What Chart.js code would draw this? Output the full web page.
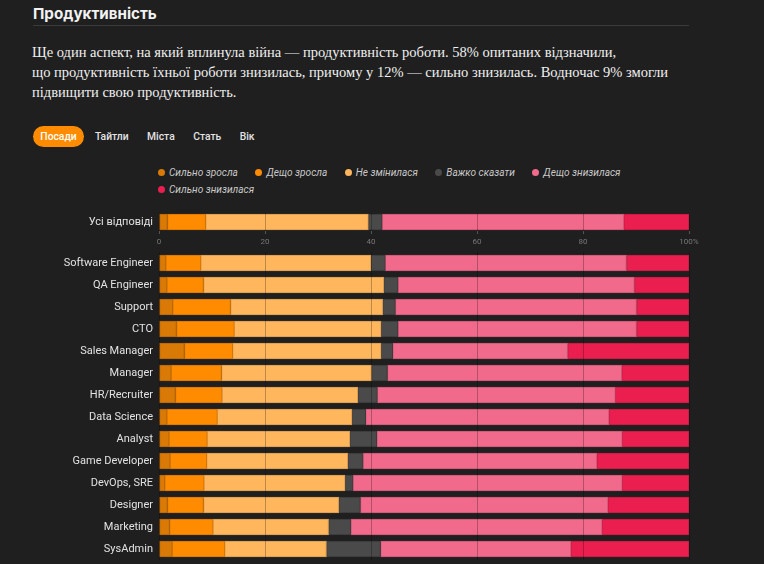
<!DOCTYPE html>
<html lang="uk">
<head>
<meta charset="utf-8">
<script src="https://cdn.jsdelivr.net/npm/chart.js@4"></script>
<style>
  html, body { margin: 0; padding: 0; background: #1f1f1f; }
  body { width: 764px; height: 564px; position: relative; overflow: hidden; font-family: Roboto, sans-serif; }
  h2 { position: absolute; left: 33px; top: 4px; margin: 0; font: 700 15.2px Inter, sans-serif; color: #f2f2f2; }
  .rule { position: absolute; left: 33px; top: 25px; width: 656px; height: 1px; background: #3a3a3a; }
  p.lead { position: absolute; left: 32px; top: 42px; margin: 0; font: 14.5px "Liberation Serif", serif; line-height: 20px; color: #f0f0f0; }
  .tabs { position: absolute; left: 33px; top: 126px; display: flex; align-items: center; }
  .tab { font: 500 10.3px Roboto, sans-serif; color: #e4e4e4; height: 21px; line-height: 21px; margin-right: 18.5px; }
  .tab.on { background: #ff8c00; color: #fff; border-radius: 11px; width: 51px; text-align: center; margin-right: 11px; }
  #legend { position: absolute; left: 158px; top: 164px; width: 531px; display: flex; flex-wrap: wrap; }
  #legend span.item { display: flex; align-items: center; height: 17px; margin-right: 17.5px; font: italic 10.1px Roboto, sans-serif; color: #c8c8c8; }
  #legend i { display: inline-block; width: 7px; height: 7px; border-radius: 50%; margin-right: 4px; }
  .box { position: absolute; left: 0; width: 764px; }
</style>
</head>
<body>
<h2>Продуктивність</h2>
<div class="rule"></div>
<p class="lead">Ще один аспект, на який вплинула війна — продуктивність роботи. 58% опитаних відзначили,<br>що продуктивність їхньої роботи знизилась, причому у 12% — сильно знизилась. Водночас 9% змогли<br>підвищити свою продуктивність.</p>
<div class="tabs">
  <span class="tab on">Посади</span>
  <span class="tab">Тайтли</span>
  <span class="tab">Міста</span>
  <span class="tab">Стать</span>
  <span class="tab">Вік</span>
</div>
<div id="legend"></div>
<div class="box" style="top:213px;height:36px"><canvas id="total"></canvas></div>
<div class="box" style="top:252px;height:308px"><canvas id="roles"></canvas></div>

<script>
const categories = ['Усі відповіді', 'Software Engineer', 'QA Engineer', 'Support', 'CTO', 'Sales Manager',
  'Manager', 'HR/Recruiter', 'Data Science', 'Analyst', 'Game Developer', 'DevOps, SRE', 'Designer',
  'Marketing', 'SysAdmin'];

const seriesNames = ['Сильно зросла', 'Дещо зросла', 'Не змінилася', 'Важко сказати', 'Дещо знизилася', 'Сильно знизилася'];
const seriesColors = ['#d97a06', '#ff8c00', '#ffb65c', '#4a4a4a', '#f16a8b', '#eb1f4f'];
const seriesBorders = ['#b86604', '#d67500', '#d99a4d', '#3a3a3a', '#c95673', '#c51842'];

const strongUp   = [1.6, 1.3, 1.5, 2.6, 3.3, 4.8, 2.3, 3.1, 1.5, 1.9, 2.1, 1.1, 1.6, 2.0, 2.5];
const someUp     = [7.2, 6.6, 6.9, 10.9, 10.9, 9.1, 9.5, 8.8, 9.5, 7.2, 6.9, 7.4, 6.8, 8.2, 9.9];
const noChange   = [30.7, 32.1, 34.0, 28.7, 27.7, 28.0, 28.3, 25.6, 25.4, 26.9, 26.6, 26.6, 25.5, 21.8, 19.2];
const hardToSay  = [2.6, 2.7, 2.7, 2.4, 3.2, 2.2, 3.0, 3.7, 2.6, 5.1, 2.9, 1.5, 4.1, 4.2, 10.2];
const someDown   = [45.6, 45.5, 44.6, 45.5, 45.0, 33.0, 44.2, 44.9, 45.9, 46.3, 44.1, 50.8, 46.7, 47.4, 35.9];
const strongDown = [12.3, 11.8, 10.3, 9.9, 9.9, 22.9, 12.7, 13.9, 15.1, 12.6, 17.4, 12.6, 15.3, 16.4, 22.3];

const xTicks = [0, 20, 40, 60, 80, 100];

const allSeries = [strongUp, someUp, noChange, hardToSay, someDown, strongDown];

// html legend
const legend = document.getElementById('legend');
seriesNames.forEach((name, i) => {
  const item = document.createElement('span');
  item.className = 'item';
  item.innerHTML = '<i style="background:' + seriesColors[i] + '"></i>' + name;
  legend.appendChild(item);
});

const makeDatasets = (from, to) => allSeries.map((values, i) => ({
  label: seriesNames[i],
  data: values.slice(from, to),
  backgroundColor: seriesColors[i],
  borderColor: seriesBorders[i],
  borderWidth: 1,
  borderSkipped: false,
  barThickness: 16,
}));

const makeOptions = (showTicks) => ({
  indexAxis: 'y',
  responsive: true,
  maintainAspectRatio: false,
  animation: false,
  layout: { padding: { left: 0, right: 75, top: 0, bottom: 0 } },
  plugins: { legend: { display: false }, tooltip: { enabled: true } },
  scales: {
    x: {
      stacked: true,
      min: 0,
      max: 100,
      afterBuildTicks: (scale) => { scale.ticks = xTicks.map((v) => ({ value: v })); },
      afterFit: (scale) => {
        if (!showTicks) scale.height = 0;
        scale.paddingLeft = 0;
        scale.paddingRight = 0;
      },
      border: { display: false },
      grid: {
        z: 1,
        color: 'rgba(0,0,0,0.25)',
        drawTicks: showTicks,
        tickLength: 3,
        tickColor: '#555',
      },
      ticks: {
        display: showTicks,
        padding: 3,
        color: '#777',
        font: { family: 'Roboto', size: 8 },
        maxRotation: 0,
        callback: (v) => (v === 100 ? '100%' : v),
      },
    },
    y: {
      stacked: true,
      afterFit: (scale) => {
        scale.width = 159;
        scale.paddingTop = 0;
        scale.paddingBottom = 0;
      },
      border: { display: false },
      grid: { display: false, drawTicks: false },
      ticks: {
        padding: 6,
        color: '#e2e2e2',
        font: { family: 'Roboto', size: 11 },
      },
    },
  },
});

new Chart(document.getElementById('total'), {
  type: 'bar',
  data: { labels: categories.slice(0, 1), datasets: makeDatasets(0, 1) },
  options: makeOptions(true),
});

new Chart(document.getElementById('roles'), {
  type: 'bar',
  data: { labels: categories.slice(1), datasets: makeDatasets(1, categories.length) },
  options: makeOptions(false),
});
</script>
</body>
</html>
